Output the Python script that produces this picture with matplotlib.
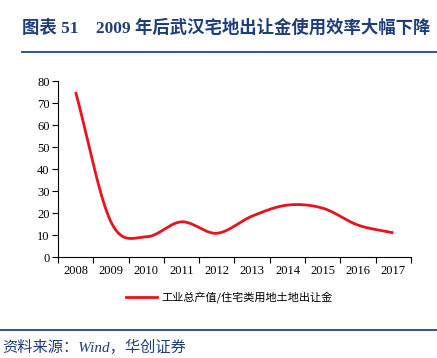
import numpy as np
import matplotlib.pyplot as plt
from matplotlib.lines import Line2D

plt.rcParams['font.family'] = ['Liberation Serif', 'Noto Sans CJK SC', 'DejaVu Sans']

years = ['2008', '2009', '2010', '2011', '2012', '2013', '2014', '2015', '2016', '2017']
ratio = [75.0, 16.0, 9.2, 16.0, 10.8, 18.6, 23.6, 22.2, 14.5, 11.0]
yticks = [0, 10, 20, 30, 40, 50, 60, 70, 80]
series_name = '工业总产值/住宅类用地土地出让金'
title = '图表 51　2009 年后武汉宅地出让金使用效率大幅下降'
source = '资料来源：Wind，华创证券'

NAVY = '#1f3f7a'
RED = '#e8131b'


def smooth(x, y, n=40):
    """Catmull-Rom curve through the points (like a 'smoothed line' chart)."""
    x = np.asarray(x, float)
    y = np.asarray(y, float)
    d = np.diff(y) / np.diff(x)
    m = np.empty_like(y)
    m[0], m[-1] = d[0], d[-1]
    m[1:-1] = (d[:-1] + d[1:]) / 2
    xs, ys = [], []
    t = np.linspace(0, 1, n)
    for i in range(len(y) - 1):
        h = x[i + 1] - x[i]
        h00 = 2 * t ** 3 - 3 * t ** 2 + 1
        h10 = t ** 3 - 2 * t ** 2 + t
        h01 = -2 * t ** 3 + 3 * t ** 2
        h11 = t ** 3 - t ** 2
        xs.append(x[i] + t * h)
        ys.append(h00 * y[i] + h10 * h * m[i] + h01 * y[i + 1] + h11 * h * m[i + 1])
    return np.concatenate(xs), np.concatenate(ys)


fig = plt.figure(figsize=(4.37, 3.58), dpi=100)
ax = fig.add_axes([0.1327, 0.2821, 0.8078, 0.4916])

xi = np.arange(len(years))
sx, sy = smooth(xi, ratio)
ax.plot(sx, sy, color=RED, linewidth=2.0, solid_capstyle='butt')

ax.set_xlim(-0.5, len(years) - 0.5)
ax.set_ylim(0, 80)
ax.set_yticks(yticks)
ax.set_xticks(xi)
ax.set_xticklabels(years)
ax.set_xticks(np.arange(len(years) + 1) - 0.5, minor=True)
ax.tick_params(axis='x', which='major', length=0, labelsize=9, pad=6)
ax.tick_params(axis='x', which='minor', length=4, direction='out', width=0.8)
ax.tick_params(axis='y', length=4, direction='out', labelsize=9, width=0.8, pad=2)
for s in ('top', 'right'):
    ax.spines[s].set_visible(False)
for s in ('left', 'bottom'):
    ax.spines[s].set_linewidth(0.8)

handle = Line2D([], [], color=RED, linewidth=2.0)
fig.legend([handle], [series_name], loc='center', bbox_to_anchor=(0.525, 0.17),
           frameon=False, handlelength=2.8, handletextpad=0.4,
           prop={'family': ['Noto Sans CJK SC'], 'size': 8})

fig.text(0.05, 0.922, title, fontsize=12.5, fontweight='bold', color=NAVY,
         va='center', ha='left', family=['Liberation Serif', 'Noto Sans CJK SC'])
fig.add_artist(Line2D([0.05, 1.0], [0.855, 0.855], color='#2c5596', linewidth=1.4))
fig.add_artist(Line2D([0.0, 1.0], [0.078, 0.078], color='#2c5596', linewidth=1.4))
fig.text(0.005, 0.03, source, fontsize=11, color=NAVY, va='center', ha='left',
         style='italic', family=['Liberation Serif', 'Noto Sans CJK SC'])

fig.savefig('out.png', dpi=100)
